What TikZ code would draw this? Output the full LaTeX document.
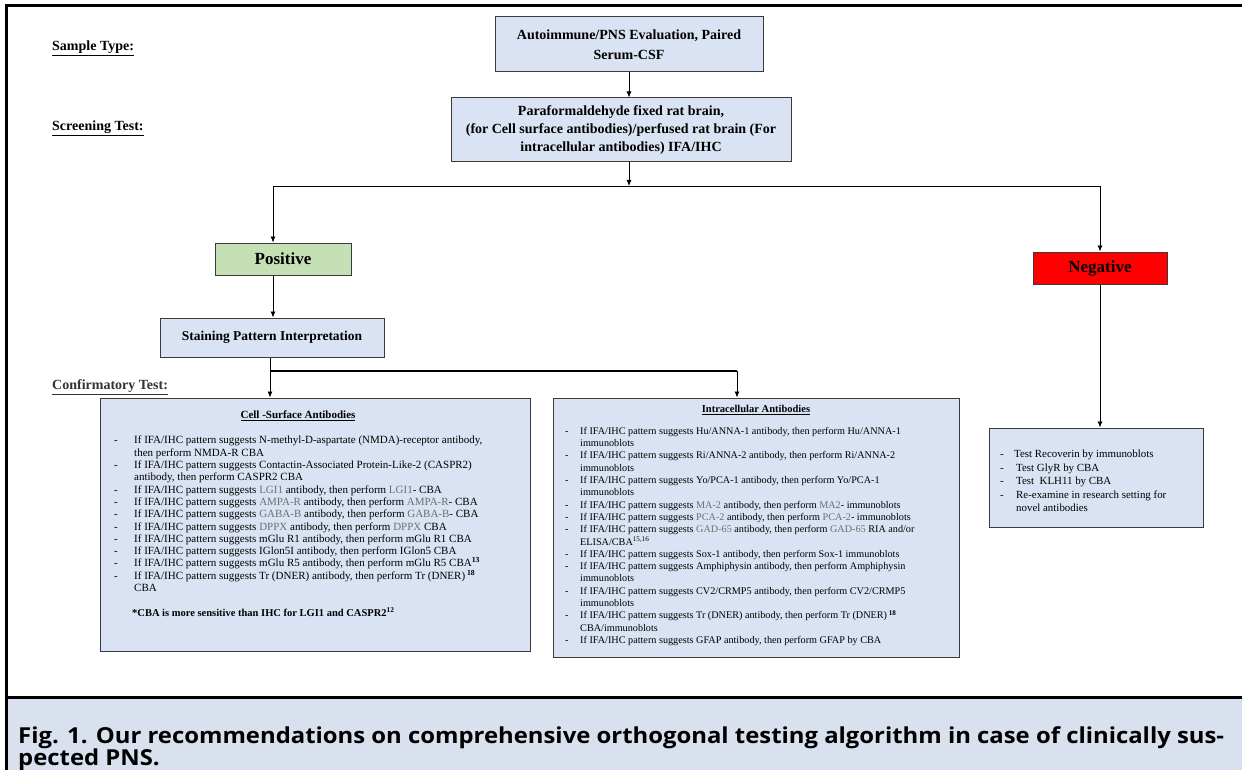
\documentclass[tikz,border=0pt]{standalone}
\usepackage{fontspec}
\setmainfont{Liberation Serif}
\newfontfamily\capfont[FakeStretch=1.085]{Open Sans}
\usetikzlibrary{arrows.meta}
\definecolor{boxblue}{HTML}{DAE3F3}
\definecolor{posgreen}{HTML}{C5E0B4}
\definecolor{capblue}{HTML}{D9E1EF}
\definecolor{edgec}{HTML}{3A3A3A}
\definecolor{gword}{HTML}{6E6E6E}
\newcommand\gw[1]{\textcolor{gword}{#1}}
\newcommand\dsA{\makebox[20pt][l]{-}}
\newcommand\inA{\hspace*{20pt}}
\newcommand\dsB{\makebox[15pt][l]{-}}
\newcommand\inB{\hspace*{15pt}}
\begin{document}
\begin{tikzpicture}[x=1pt,y=-1pt,
  box/.style={draw=edgec, line width=1pt, fill=boxblue, inner sep=0pt, align=center},
  hdr/.style={font=\fontsize{14}{18}\selectfont\bfseries},
  big/.style={font=\fontsize{17}{20}\selectfont\bfseries},
  lbl/.style={anchor=west, inner sep=0pt, font=\fontsize{14}{16}\selectfont\bfseries},
  arr/.style={-{Latex[length=6pt,width=5pt]}, line width=0.8pt},
  listtxt/.style={anchor=north west, inner sep=0pt, align=left}
]
\useasboundingbox (0,0) rectangle (1242,770);
\fill[white] (0,0) rectangle (1242,770);
\fill[capblue] (6,698) rectangle (1242,770);
\draw[line width=3pt] (1242,5.5) -- (6.5,5.5) -- (6.5,770);
\draw[line width=3pt] (6.5,697) -- (1242,697);

% side labels
\node[lbl] (lsample) at (52,48) {\underline{Sample Type:}};
\node[lbl] (lscreen) at (52,128) {\underline{Screening Test:}};
\node[lbl, text=black!80] (lconf) at (52,387) {\underline{Confirmatory Test:}};

% main boxes
\node[box, hdr, font=\fontsize{14}{20}\selectfont\bfseries, minimum width=268pt, minimum height=55pt] (A) at (629,44.5)
  {Autoimmune/PNS Evaluation, Paired\\Serum-CSF};
\node[box, hdr, minimum width=340pt, minimum height=64pt] (B) at (621,130)
  {Paraformaldehyde fixed rat brain,\\(for Cell surface antibodies)/perfused rat brain (For\\intracellular antibodies) IFA/IHC};
\node[box, big, fill=posgreen, minimum width=136pt, minimum height=32pt] (Pos) at (283,259) {Positive};
\node[box, big, fill=red, minimum width=134pt, minimum height=32pt] (Neg) at (1100,268) {Negative};
\node[box, font=\fontsize{13.5}{16}\selectfont\bfseries, minimum width=224pt, minimum height=39pt] (St) at (272,337.5) {Staining Pattern Interpretation};

% detail boxes
\node[box, minimum width=430pt, minimum height=253pt] (CS) at (315,524.5) {};
\node[box, minimum width=406pt, minimum height=259pt] (IC) at (756,527.5) {};
\node[box, minimum width=214pt, minimum height=99pt] (NL) at (1096,477.5) {};

% connectors
\coordinate (jc) at (629,186);
\coordinate (jl) at (273,186);
\coordinate (jr) at (1100,186);
\draw[arr] (A.south -| jc) -- (B.north -| jc);
\draw[arr] (B.south -| jc) -- (jc);
\draw[line width=0.8pt] (jl) -- (jr);
\draw[arr] (jl) -- (jl |- Pos.north);
\draw[arr] (jr) -- (Neg.north);
\draw[arr] (Pos.south -| jl) -- (jl |- St.north);
\coordinate (kl) at (270,371);
\coordinate (kr) at (737,371);
\draw[arr] (St.south -| kl) -- (kl |- CS.north);
\draw[line width=1.6pt] (kl) -- (kr);
\draw[arr] (kr) -- (kr |- IC.north);
\draw[arr] (Neg.south) -- (Neg.south |- NL.north);

% cell-surface text
\node[inner sep=0pt, font=\fontsize{11}{13}\selectfont\bfseries] (csh) at (298,416) {\underline{Cell -Surface Antibodies}};
\node[listtxt, font=\fontsize{11}{12.3}\selectfont] (cst) at (114,436) {%
\dsA If IFA/IHC pattern suggests N-methyl-D-aspartate (NMDA)-receptor antibody,\\
\inA then perform NMDA-R CBA\\
\dsA If IFA/IHC pattern suggests Contactin-Associated Protein-Like-2 (CASPR2)\\
\inA antibody, then perform CASPR2 CBA\\
\dsA If IFA/IHC pattern suggests \gw{LGI1} antibody, then perform \gw{LGI1}- CBA\\
\dsA If IFA/IHC pattern suggests \gw{AMPA-R} antibody, then perform \gw{AMPA-R}- CBA\\
\dsA If IFA/IHC pattern suggests \gw{GABA-B} antibody, then perform \gw{GABA-B}- CBA\\
\dsA If IFA/IHC pattern suggests \gw{DPPX} antibody, then perform \gw{DPPX} CBA\\
\dsA If IFA/IHC pattern suggests mGlu R1 antibody, then perform mGlu R1 CBA\\
\dsA If IFA/IHC pattern suggests IGlon5I antibody, then perform IGlon5 CBA\\
\dsA If IFA/IHC pattern suggests mGlu R5 antibody, then perform mGlu R5 CBA\textsuperscript{\bfseries 13}\\
\dsA If IFA/IHC pattern suggests Tr (DNER) antibody, then perform Tr (DNER)\,\textsuperscript{\bfseries 18}\\
\inA CBA\\[12.3pt]
\hspace*{18pt}{\fontsize{10.5}{12.3}\selectfont\bfseries *CBA is more sensitive than IHC for LGI1 and CASPR2\textsuperscript{12}}};

% intracellular text
\node[inner sep=0pt, font=\fontsize{10.5}{13}\selectfont\bfseries] (ich) at (756,410) {\underline{Intracellular Antibodies}};
\node[listtxt, font=\fontsize{10.2}{12.3}\selectfont] (ict) at (565,427) {%
\dsB If IFA/IHC pattern suggests Hu/ANNA-1 antibody, then perform Hu/ANNA-1\\
\inB immunoblots\\
\dsB If IFA/IHC pattern suggests Ri/ANNA-2 antibody, then perform Ri/ANNA-2\\
\inB immunoblots\\
\dsB If IFA/IHC pattern suggests Yo/PCA-1 antibody, then perform Yo/PCA-1\\
\inB immunoblots\\
\dsB If IFA/IHC pattern suggests \gw{MA-2} antibody, then perform \gw{MA2}- immunoblots\\
\dsB If IFA/IHC pattern suggests \gw{PCA-2} antibody, then perform \gw{PCA-2}- immunoblots\\
\dsB If IFA/IHC pattern suggests \gw{GAD-65} antibody, then perform \gw{GAD-65} RIA and/or\\
\inB ELISA/CBA\textsuperscript{15,16}\\
\dsB If IFA/IHC pattern suggests Sox-1 antibody, then perform Sox-1 immunoblots\\
\dsB If IFA/IHC pattern suggests Amphiphysin antibody, then perform Amphiphysin\\
\inB immunoblots\\
\dsB If IFA/IHC pattern suggests CV2/CRMP5 antibody, then perform CV2/CRMP5\\
\inB immunoblots\\
\dsB If IFA/IHC pattern suggests Tr (DNER) antibody, then perform Tr (DNER)\,\textsuperscript{\bfseries 18}\\
\inB CBA/immunoblots\\
\dsB If IFA/IHC pattern suggests GFAP antibody, then perform GFAP by CBA};

% negative list text
\node[listtxt, font=\fontsize{10.9}{13.5}\selectfont] (nlt) at (1000,450) {%
\makebox[14pt][l]{-}Test Recoverin by immunoblots\\
\makebox[16pt][l]{-}Test GlyR by CBA\\
\makebox[16pt][l]{-}Test\ \ KLH11 by CBA\\
\makebox[16pt][l]{-}Re-examine in research setting for\\
\hspace*{16pt}novel antibodies};

% caption
\node[anchor=north west, inner sep=0pt, align=left, font=\capfont\bfseries\fontsize{22}{22}\selectfont] (cap) at (18,726.5)
{Fig. 1. Our recommendations on comprehensive orthogonal testing algorithm in case of clinically sus-\\pected PNS.};
\end{tikzpicture}
\end{document}
